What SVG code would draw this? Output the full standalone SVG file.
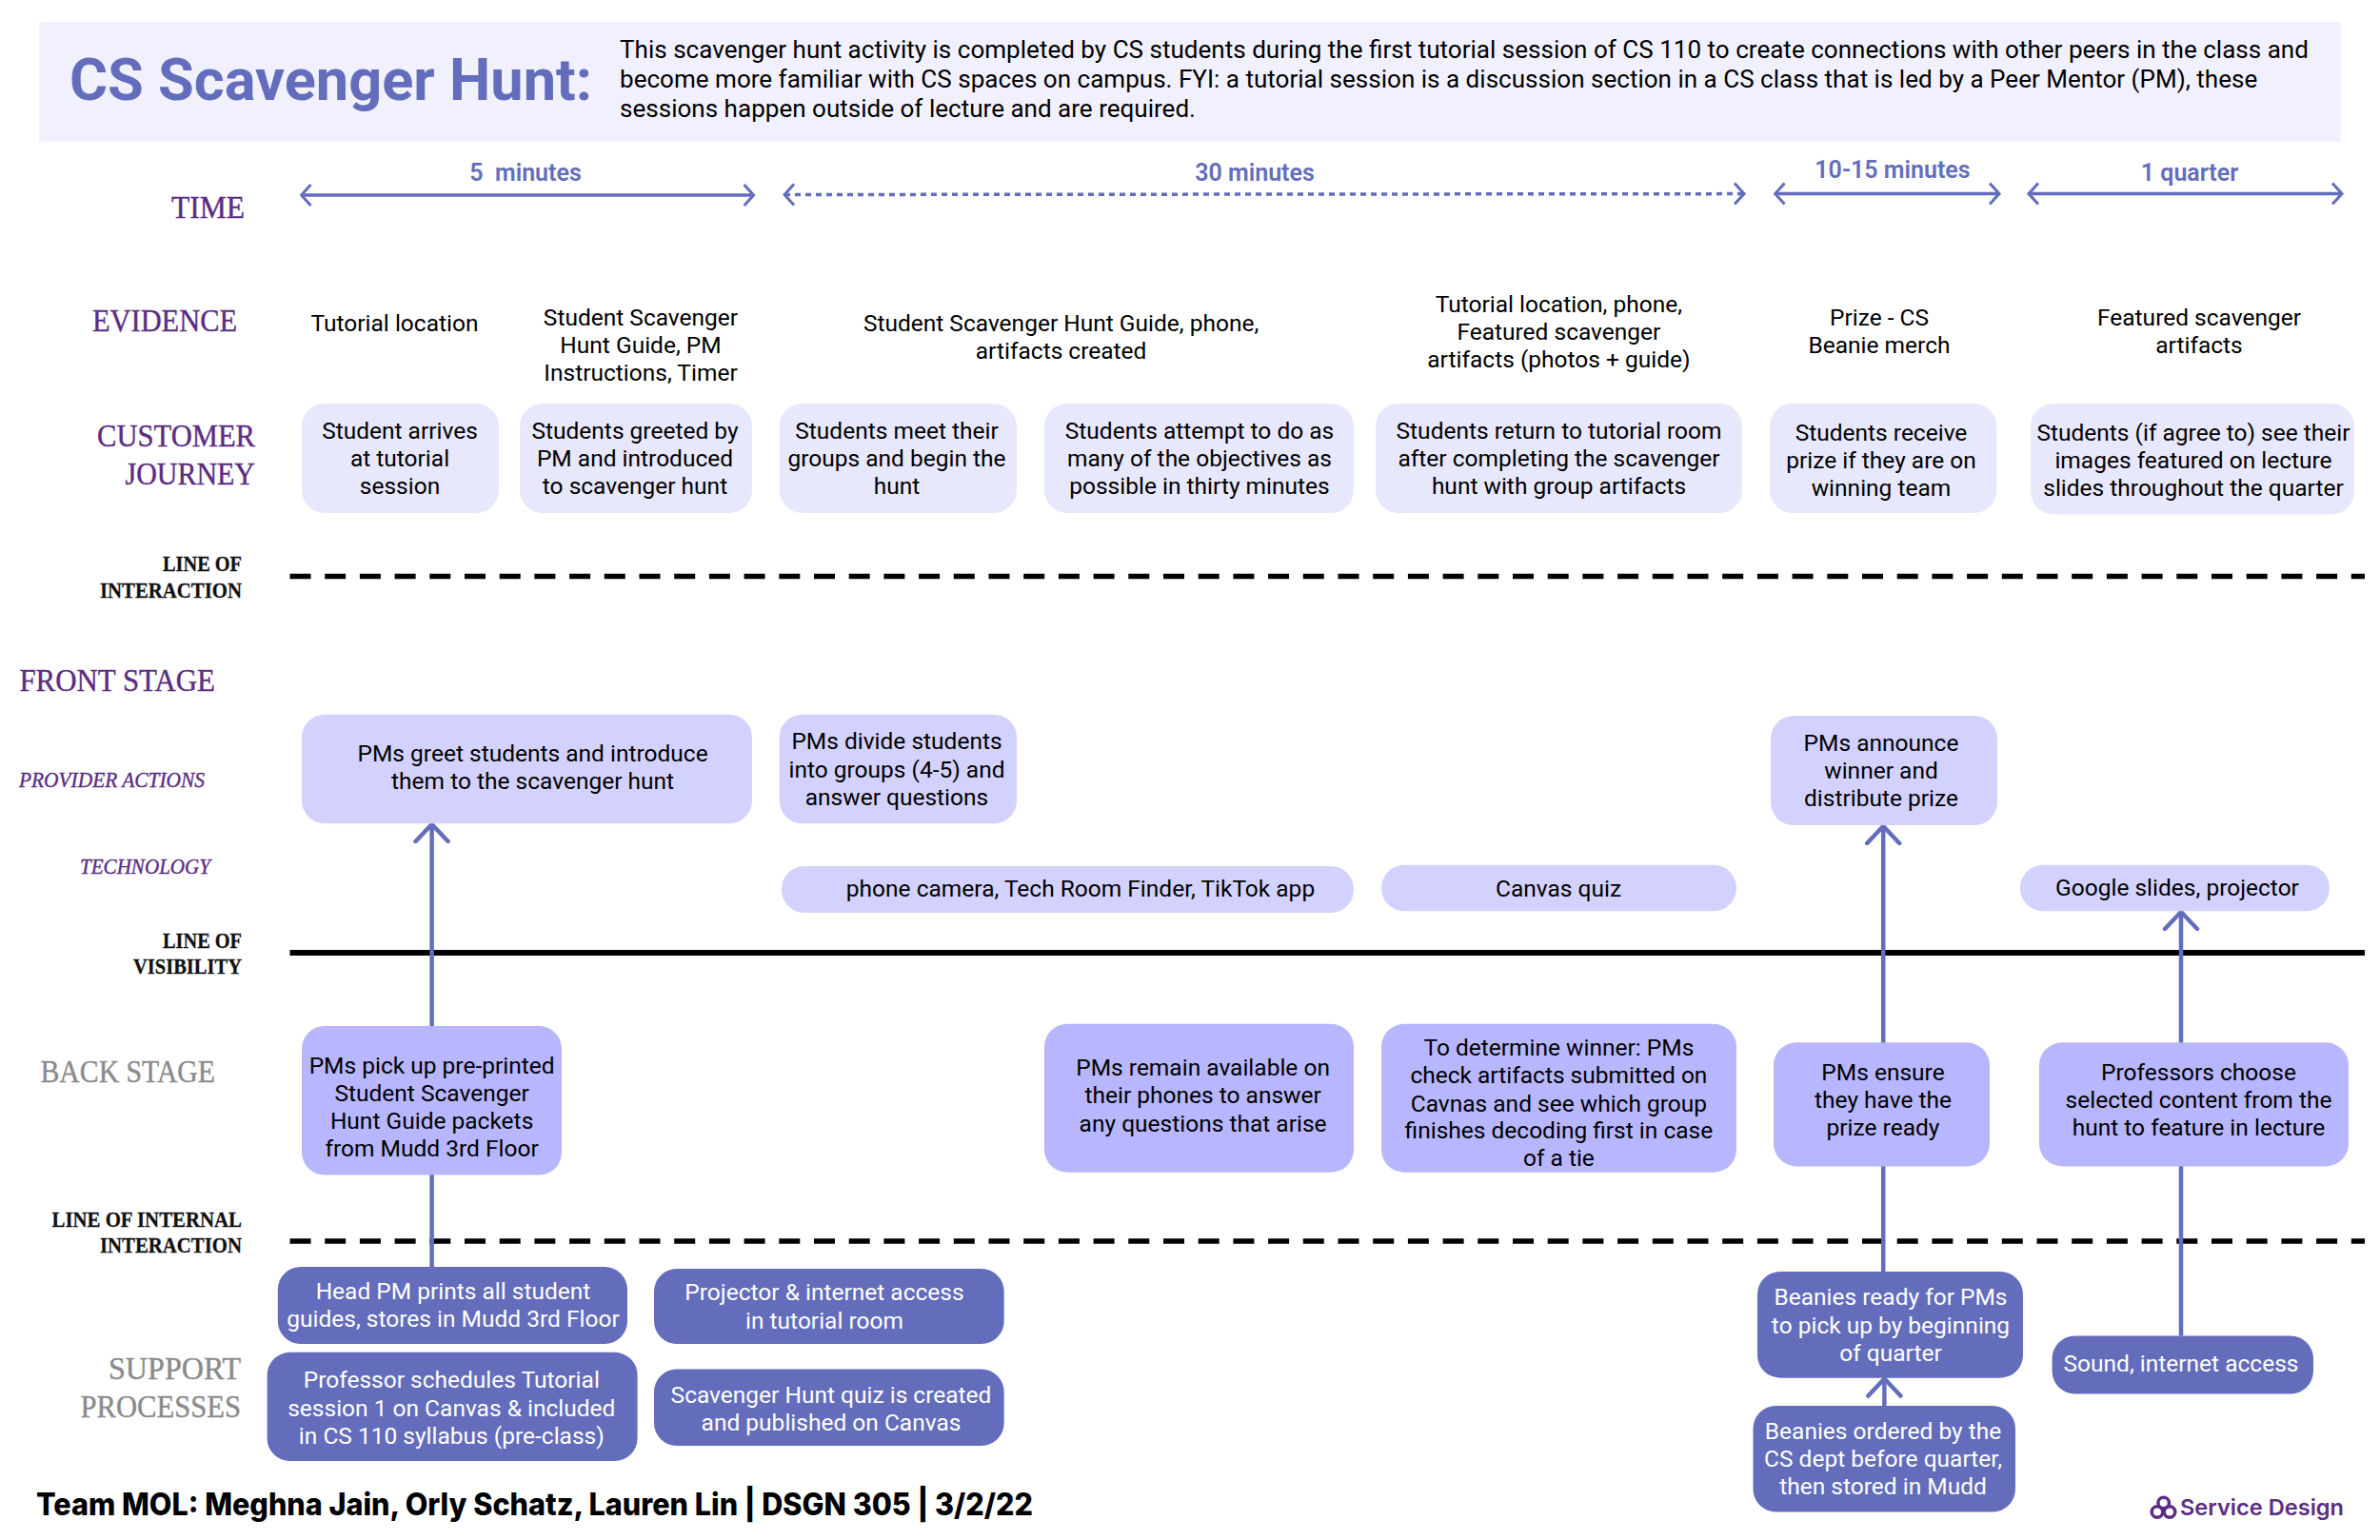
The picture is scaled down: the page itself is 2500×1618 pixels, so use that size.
<svg xmlns="http://www.w3.org/2000/svg" width="2500" height="1618" viewBox="0 0 2500 1618">
<defs>
<marker id="chev" markerUnits="userSpaceOnUse" markerWidth="16" markerHeight="28" refX="14" refY="14" orient="auto-start-reverse" viewBox="0 0 16 28"><path d="M4 3 L14 14 L4 25" fill="none" stroke="#636DBB" stroke-width="3"/></marker>
<marker id="up" markerUnits="userSpaceOnUse" markerWidth="22" markerHeight="40" refX="20" refY="20" orient="auto" viewBox="0 0 22 40"><path d="M2 3 L20 20 L2 37" fill="none" stroke="#636DBB" stroke-width="4.5" stroke-linecap="round"/></marker>
</defs>
<style>
text{font-family:"Roboto","Liberation Sans",sans-serif;font-size:24.5px;fill:#000}
.c text{text-anchor:middle}
.w text{fill:#fff}
.d{font-size:26.05px}
.l{font-family:"Liberation Serif",serif;text-anchor:end;fill:#5B2C83;font-size:33px;stroke:#5B2C83;stroke-width:.4}
.i{font-size:24px;font-style:italic}
.lb{font-family:"Liberation Serif",serif;font-weight:700;text-anchor:end;font-size:24px;fill:#111;stroke:#111;stroke-width:.3}
.g{font-family:"Liberation Serif",serif;text-anchor:end;fill:#8A8A8A;font-size:33px;stroke:#8A8A8A;stroke-width:.4}
.t{font-weight:600;font-size:25px;fill:#636DBB;text-anchor:middle}
.cj{fill:#E8E8FD}.pa{fill:#D3D2FE}.bs{fill:#B7B6FE}.sp{fill:#636DBB}
.conn{fill:none;stroke:#636DBB;stroke-width:4.5}
.time{fill:none;stroke:#636DBB;stroke-width:3.5}
.dash{fill:none;stroke:#000;stroke-width:5.5;stroke-dasharray:22 14.7}
</style>
<g id="header">
<rect x="41" y="23" width="2418" height="126" fill="#F1F1FE"/>
<text x="73" y="105" style="font-weight:700;font-size:61.3px;fill:#636DBB">CS Scavenger Hunt:</text>
<text class="d" x="651" y="61">This scavenger hunt activity is completed by CS students during the first tutorial session of CS 110 to create connections with other peers in the class and</text>
<text class="d" x="651" y="92">become more familiar with CS spaces on campus. FYI: a tutorial session is a discussion section in a CS class that is led by a Peer Mentor (PM), these</text>
<text class="d" x="651" y="122.5">sessions happen outside of lecture and are required.</text>
</g>
<g id="labels">
<text class="l" x="257" y="229" textLength="77" lengthAdjust="spacingAndGlyphs">TIME</text>
<text class="l" x="249" y="348" textLength="152" lengthAdjust="spacingAndGlyphs">EVIDENCE</text>
<text class="l" x="268" y="468.6" textLength="166" lengthAdjust="spacingAndGlyphs">CUSTOMER</text>
<text class="l" x="268" y="509" textLength="136.5" lengthAdjust="spacingAndGlyphs">JOURNEY</text>
<text class="lb" x="254" y="600" textLength="83" lengthAdjust="spacingAndGlyphs">LINE OF</text>
<text class="lb" x="254" y="628" textLength="149" lengthAdjust="spacingAndGlyphs">INTERACTION</text>
<text class="l" x="226" y="726" textLength="205.6" lengthAdjust="spacingAndGlyphs">FRONT STAGE</text>
<text class="l i" x="215" y="827" textLength="195" lengthAdjust="spacingAndGlyphs">PROVIDER ACTIONS</text>
<text class="l i" x="221" y="918" textLength="137" lengthAdjust="spacingAndGlyphs">TECHNOLOGY</text>
<text class="lb" x="254" y="996" textLength="83" lengthAdjust="spacingAndGlyphs">LINE OF</text>
<text class="lb" x="254" y="1023" textLength="114" lengthAdjust="spacingAndGlyphs">VISIBILITY</text>
<text class="g" x="226" y="1137" textLength="183.5" lengthAdjust="spacingAndGlyphs">BACK STAGE</text>
<text class="lb" x="254" y="1289" textLength="199.5" lengthAdjust="spacingAndGlyphs">LINE OF INTERNAL</text>
<text class="lb" x="254" y="1316" textLength="149" lengthAdjust="spacingAndGlyphs">INTERACTION</text>
<text class="g" x="253" y="1449" textLength="139" lengthAdjust="spacingAndGlyphs">SUPPORT</text>
<text class="g" x="253" y="1489" textLength="168.5" lengthAdjust="spacingAndGlyphs">PROCESSES</text>
</g>
<g id="lines">
<path class="dash" d="M304.5 605.5H2484"/>
<path d="M304.5 1001H2484" fill="none" stroke="#000" stroke-width="6"/>
<path class="dash" d="M304.5 1304H2484"/>
</g>
<g id="connectors">
<path class="time" d="M316.5 205H791.6" marker-start="url(#chev)" marker-end="url(#chev)"/>
<path class="time" d="M824 204.5L1832 203.6" stroke-dasharray="6 5" marker-start="url(#chev)" marker-end="url(#chev)"/>
<path class="time" d="M1864.6 203.6H2100" marker-start="url(#chev)" marker-end="url(#chev)"/>
<path class="time" d="M2131 203.6H2460" marker-start="url(#chev)" marker-end="url(#chev)"/>
<path class="conn" d="M453.6 1331V866" marker-end="url(#up)"/>
<path class="conn" d="M1978.2 1336V868" marker-end="url(#up)"/>
<path class="conn" d="M2291 1403.4V958" marker-end="url(#up)"/>
<path class="conn" d="M1979.4 1477V1448.5" marker-end="url(#up)"/>
</g>
<g id="time-labels">
<text class="t" x="552" y="190" xml:space="preserve">5  minutes</text>
<text class="t" x="1318" y="190">30 minutes</text>
<text class="t" x="1988" y="186.6">10-15 minutes</text>
<text class="t" x="2300" y="190">1 quarter</text>
</g>
<g id="evidence" class="c">
<text x="414.5" y="348">Tutorial location</text>
<text x="673" y="341.6">Student Scavenger</text><text x="673" y="371">Hunt Guide, PM</text><text x="673" y="400">Instructions, Timer</text>
<text x="1114.6" y="348">Student Scavenger Hunt Guide, phone,</text><text x="1114.6" y="377">artifacts created</text>
<text x="1637.4" y="328">Tutorial location, phone,</text><text x="1637.4" y="357">Featured scavenger</text><text x="1637.4" y="386">artifacts (photos + guide)</text>
<text x="1974" y="341.6">Prize - CS</text><text x="1974" y="371">Beanie merch</text>
<text x="2310" y="341.6">Featured scavenger</text><text x="2310" y="371">artifacts</text>
</g>
<g id="cj1" class="c"><rect class="cj" x="317" y="424" width="207" height="115" rx="24"/><text x="420" y="460.6">Student arrives</text><text x="420" y="490">at tutorial</text><text x="420" y="519">session</text></g>
<g id="cj2" class="c"><rect class="cj" x="546" y="424" width="244" height="115" rx="24"/><text x="667" y="460.6">Students greeted by</text><text x="667" y="490">PM and introduced</text><text x="667" y="519">to scavenger hunt</text></g>
<g id="cj3" class="c"><rect class="cj" x="818.7" y="424" width="249.3" height="115" rx="24"/><text x="942" y="460.6">Students meet their</text><text x="942" y="490">groups and begin the</text><text x="942" y="519">hunt</text></g>
<g id="cj4" class="c"><rect class="cj" x="1097" y="424" width="325" height="115" rx="24"/><text x="1260" y="460.6">Students attempt to do as</text><text x="1260" y="490">many of the objectives as</text><text x="1260" y="519">possible in thirty minutes</text></g>
<g id="cj5" class="c"><rect class="cj" x="1445" y="424" width="385" height="115" rx="24"/><text x="1637.5" y="460.6">Students return to tutorial room</text><text x="1637.5" y="490">after completing the scavenger</text><text x="1637.5" y="519">hunt with group artifacts</text></g>
<g id="cj6" class="c"><rect class="cj" x="1859" y="424" width="238.4" height="115" rx="24"/><text x="1976" y="462.6">Students receive</text><text x="1976" y="492">prize if they are on</text><text x="1976" y="521">winning team</text></g>
<g id="cj7" class="c"><rect class="cj" x="2133" y="424" width="340" height="116.5" rx="24"/><text x="2304" y="462.6">Students (if agree to) see their</text><text x="2304" y="492">images featured on lecture</text><text x="2304" y="521">slides throughout the quarter</text></g>
<g id="pa1" class="c"><rect class="pa" x="317" y="750.7" width="473" height="114.6" rx="24"/><text x="559.6" y="800">PMs greet students and introduce</text><text x="559.6" y="829">them to the scavenger hunt</text></g>
<g id="pa2" class="c"><rect class="pa" x="818.7" y="750.7" width="249.3" height="114.6" rx="24"/><text x="942" y="787">PMs divide students</text><text x="942" y="816.7">into groups (4-5) and</text><text x="942" y="845.7">answer questions</text></g>
<g id="pa3" class="c"><rect class="pa" x="1860" y="752" width="238" height="115" rx="24"/><text x="1976" y="789">PMs announce</text><text x="1976" y="818">winner and</text><text x="1976" y="847">distribute prize</text></g>
<g id="tech1" class="c"><rect class="pa" x="821" y="910" width="601" height="49" rx="24"/><text x="1135" y="942">phone camera, Tech Room Finder, TikTok app</text></g>
<g id="tech2" class="c"><rect class="pa" x="1451" y="908.7" width="373" height="48.6" rx="24"/><text x="1637" y="942">Canvas quiz</text></g>
<g id="tech3" class="c"><rect class="pa" x="2122" y="908.7" width="325" height="48.6" rx="24"/><text x="2287" y="941">Google slides, projector</text></g>
<g id="bs1" class="c"><rect class="bs" x="317" y="1078" width="273" height="156.6" rx="24"/><text x="453.6" y="1127.7">PMs pick up pre-printed</text><text x="453.6" y="1156.5">Student Scavenger</text><text x="453.6" y="1185.6">Hunt Guide packets</text><text x="453.6" y="1214.7">from Mudd 3rd Floor</text></g>
<g id="bs2" class="c"><rect class="bs" x="1097" y="1075.8" width="325" height="155.9" rx="24"/><text x="1263.6" y="1130.3">PMs remain available on</text><text x="1263.6" y="1159.4">their phones to answer</text><text x="1263.6" y="1188.5">any questions that arise</text></g>
<g id="bs3" class="c"><rect class="bs" x="1451" y="1075.8" width="373" height="155.9" rx="24"/><text x="1637.4" y="1109">To determine winner: PMs</text><text x="1637.4" y="1138.4">check artifacts submitted on</text><text x="1637.4" y="1167.5">Cavnas and see which group</text><text x="1637.4" y="1196.3">finishes decoding first in case</text><text x="1637.4" y="1225.4">of a tie</text></g>
<g id="bs4" class="c"><rect class="bs" x="1863" y="1095.3" width="227" height="130.1" rx="24"/><text x="1978" y="1135">PMs ensure</text><text x="1978" y="1164">they have the</text><text x="1978" y="1193">prize ready</text></g>
<g id="bs5" class="c"><rect class="bs" x="2142" y="1095.3" width="325" height="130.1" rx="24"/><text x="2309.5" y="1135">Professors choose</text><text x="2309.5" y="1164">selected content from the</text><text x="2309.5" y="1193">hunt to feature in lecture</text></g>
<g id="sp1" class="c w"><rect class="sp" x="291.8" y="1331" width="367.2" height="81" rx="24"/><text x="476" y="1365">Head PM prints all student</text><text x="476" y="1394">guides, stores in Mudd 3rd Floor</text></g>
<g id="sp2" class="c w"><rect class="sp" x="687" y="1333" width="367.7" height="79" rx="24"/><text x="866" y="1366">Projector &amp; internet access</text><text x="866" y="1395.7">in tutorial room</text></g>
<g id="sp3" class="c w"><rect class="sp" x="280.6" y="1420.8" width="389" height="114.2" rx="24"/><text x="474.3" y="1458">Professor schedules Tutorial</text><text x="474.3" y="1487.5">session 1 on Canvas &amp; included</text><text x="474.3" y="1516.6">in CS 110 syllabus (pre-class)</text></g>
<g id="sp4" class="c w"><rect class="sp" x="687" y="1438.5" width="367.7" height="80.5" rx="24"/><text x="873" y="1473.5">Scavenger Hunt quiz is created</text><text x="873" y="1502.6">and published on Canvas</text></g>
<g id="sp5" class="c w"><rect class="sp" x="1846" y="1336" width="279" height="111.7" rx="24"/><text x="1986" y="1371">Beanies ready for PMs</text><text x="1986" y="1400.5">to pick up by beginning</text><text x="1986" y="1429.6">of quarter</text></g>
<g id="sp6" class="c w"><rect class="sp" x="1841.5" y="1477" width="275.5" height="111.5" rx="24"/><text x="1978" y="1511.8">Beanies ordered by the</text><text x="1978" y="1541">CS dept before quarter,</text><text x="1978" y="1570">then stored in Mudd</text></g>
<g id="sp7" class="c w"><rect class="sp" x="2155.6" y="1403.4" width="274.4" height="61.2" rx="24"/><text x="2291" y="1441">Sound, internet access</text></g>
<g id="footer">
<text x="38" y="1592" textLength="1047" lengthAdjust="spacingAndGlyphs" style="font-family:Inter,sans-serif;font-weight:800;font-size:32px">Team MOL: Meghna Jain, Orly Schatz, Lauren Lin | DSGN 305 | 3/2/22</text>
<text x="2290" y="1592" textLength="172" lengthAdjust="spacingAndGlyphs" style="font-family:Inter,sans-serif;font-weight:600;font-size:23px;fill:#5A2D82">Service Design</text>
<g fill="none" stroke="#5A2D82" stroke-width="3.5"><circle cx="2272.7" cy="1579" r="5.8"/><circle cx="2266" cy="1588.5" r="5.8"/><circle cx="2279" cy="1588.5" r="5.8"/></g>
</g>
</svg>
